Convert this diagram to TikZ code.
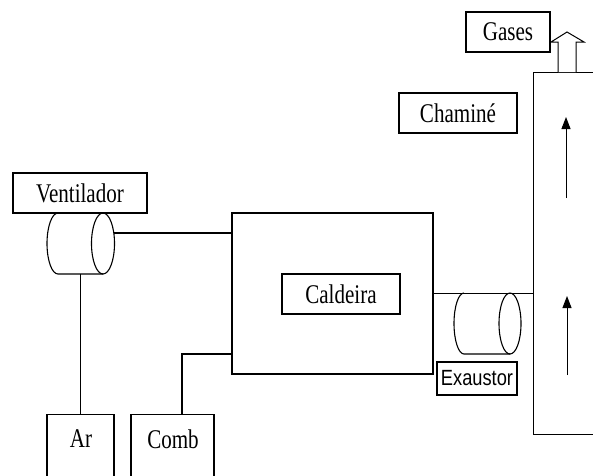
\documentclass[tikz,border=0pt]{standalone}
\usepackage{fontspec}
\setmainfont{Liberation Serif}[FakeStretch=0.78]
\newfontfamily\exfont{Liberation Sans}[FakeStretch=0.83]
\usetikzlibrary{arrows.meta}
\begin{document}
\begin{tikzpicture}[x=1pt,y=-1pt,line width=1.1pt,
  box/.style={draw,rectangle,inner sep=0pt,font=\fontsize{27}{30}\selectfont},
  lbl/.style={inner sep=0pt,font=\fontsize{27}{30}\selectfont},
  flow/.style={line width=1pt,-{Triangle[length=12pt,width=9pt]}}]
\clip (0,0) rectangle (593,475);
\fill[white] (0,0) rectangle (593,475);
% boxes
\node[box,minimum width=134pt,minimum height=40pt] (vent) at (80,193) {Ventilador};
\node[box,minimum width=201pt,minimum height=161pt] (cald) at (332.5,293.5) {};
\node[box,minimum width=118pt,minimum height=40pt] (caltxt) at (341,294) {Caldeira};
\node[box,minimum width=67pt,minimum height=80pt,anchor=north] (ar) at (80.5,414) {};
\node[lbl] (artxt) at (81,439) {Ar};
\node[box,minimum width=83pt,minimum height=80pt,anchor=north] (comb) at (172.5,414) {};
\node[lbl] (combtxt) at (173,439) {Comb};
\node[box,minimum width=87pt,minimum height=362pt,anchor=north west] (chim) at (533,72) {};
\node[box,minimum width=84pt,minimum height=40pt] (gases) at (508,32) {Gases};
\node[box,minimum width=118pt,minimum height=40pt] (chamine) at (458,113) {Chaminé};
\node[draw,rectangle,inner sep=0pt,minimum width=80pt,minimum height=33pt,
  font=\exfont\fontsize{22}{25}\selectfont] (exaus) at (477,378.5) {Exaustor};
% fan (ventilador) cylinder
\draw (58,213) arc[start angle=90,end angle=270,x radius=11pt,y radius=30.5pt] -- (103,274);
\draw (103,243.5) ellipse[x radius=11.5pt,y radius=30.5pt];
\coordinate (fanR) at (113.8,233);
\coordinate (fanB) at (80.5,274);
% exhaust cylinder
\draw (464,293) arc[start angle=90,end angle=270,x radius=10pt,y radius=30.5pt] -- (510,354);
\draw (510,323.5) ellipse[x radius=11pt,y radius=30.5pt];
% connectors
\coordinate (combup) at (182,414);
\coordinate (combin) at (0,354);
\draw (fanR) -- (fanR -| cald.west);
\draw (fanB) -- (ar.north);
\draw (combup) |- (combin -| cald.west);
\draw (cald.east) -- (cald.east -| chim.west);
% flow arrows in chimney
\coordinate (a1s) at (567,375);
\coordinate (a1e) at (567,296);
\coordinate (a2s) at (566,198);
\coordinate (a2e) at (566,117);
\draw[flow] (a1s) -- (a1e);
\draw[flow] (a2s) -- (a2e);
% hollow gas outlet arrow
\draw[line width=1pt,fill=white] (558,72) -- (558,42) -- (551,42) -- (567,32) -- (584,42) -- (576,42) -- (576,72);
\end{tikzpicture}
\end{document}
